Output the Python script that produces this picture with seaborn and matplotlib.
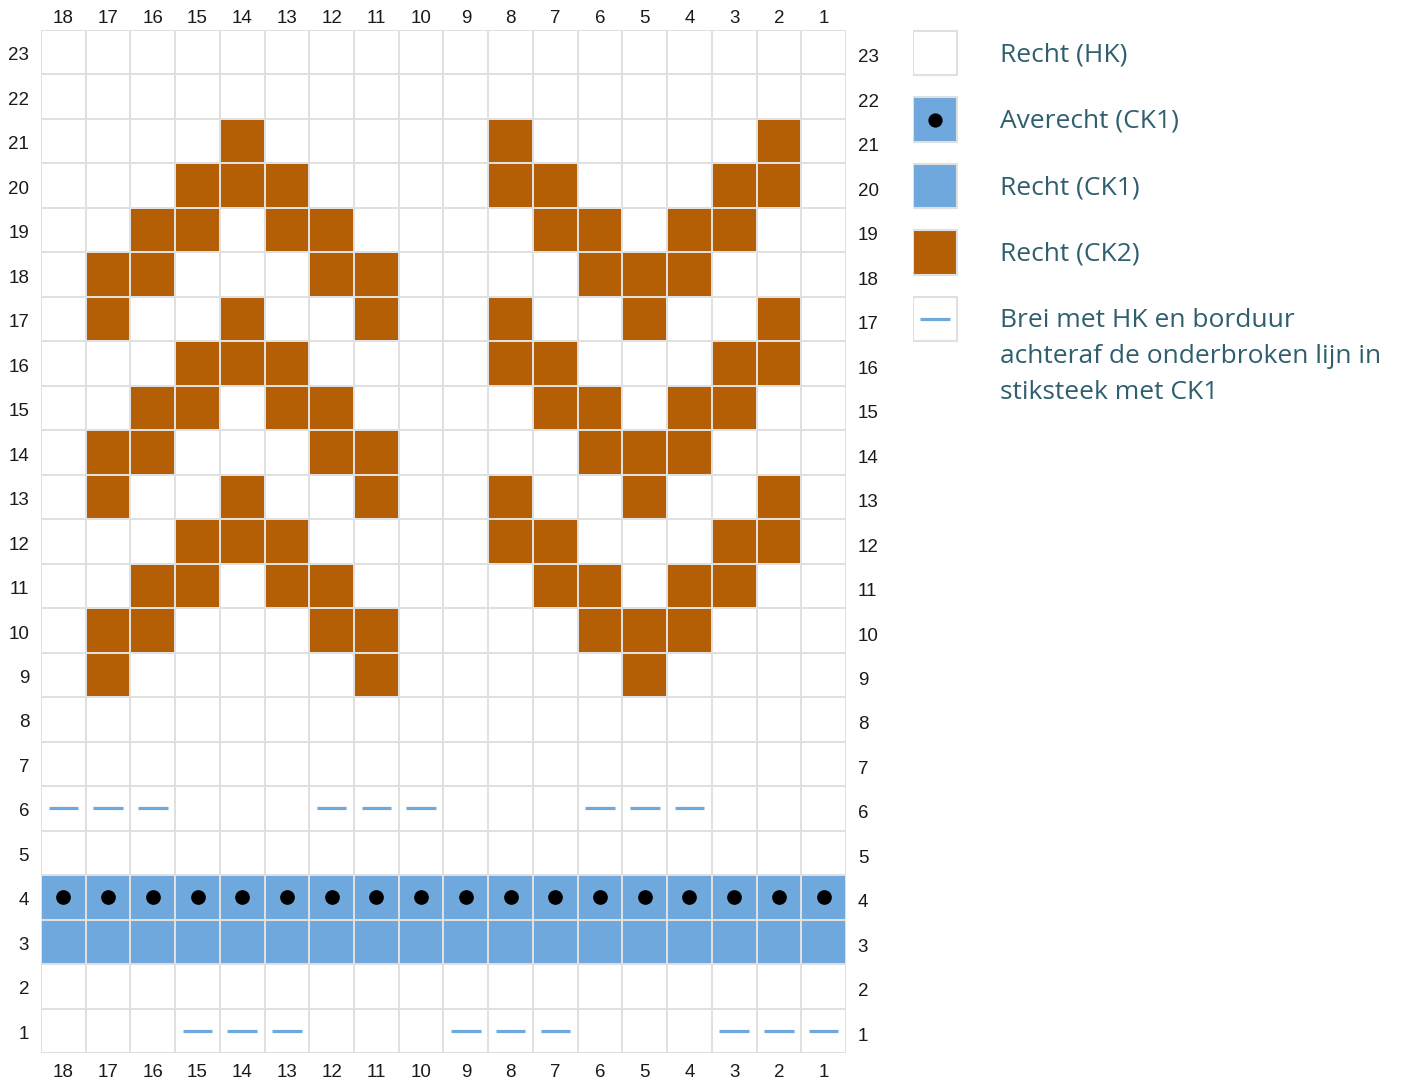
import numpy as np
import pandas as pd
import seaborn as sns
import matplotlib
matplotlib.use("Agg")
import matplotlib.pyplot as plt
from matplotlib.colors import ListedColormap
from matplotlib.patches import Rectangle

sns.set_theme(style="white")
plt.rcParams['font.family'] = ['Liberation Sans', 'DejaVu Sans']

# ---------------- data ----------------
columns = list(range(18, 0, -1))      # stitch numbers, left to right
rows = list(range(23, 0, -1))         # row numbers, top to bottom

ck2_stitches = {
    21: [14, 8, 2],
    20: [15, 14, 13, 8, 7, 3, 2],
    19: [16, 15, 13, 12, 7, 6, 4, 3],
    18: [17, 16, 12, 11, 6, 5, 4],
    17: [17, 14, 11, 8, 5, 2],
    16: [15, 14, 13, 8, 7, 3, 2],
    15: [16, 15, 13, 12, 7, 6, 4, 3],
    14: [17, 16, 12, 11, 6, 5, 4],
    13: [17, 14, 11, 8, 5, 2],
    12: [15, 14, 13, 8, 7, 3, 2],
    11: [16, 15, 13, 12, 7, 6, 4, 3],
    10: [17, 16, 12, 11, 6, 5, 4],
    9: [17, 11, 5],
}
ck1_rows = [4, 3]
purl_rows = [4]
embroidery_stitches = {
    6: [18, 17, 16, 12, 11, 10, 6, 5, 4],
    1: [15, 14, 13, 9, 8, 7, 3, 2, 1],
}

legend_labels = [
    "Recht (HK)",
    "Averecht (CK1)",
    "Recht (CK1)",
    "Recht (CK2)",
    "Brei met HK en borduur\nachteraf de onderbroken lijn in\nstiksteek met CK1",
]
legend_codes = [0, 1, 1, 2, 0]
legend_symbols = [None, "dot", None, None, "dash"]

# ---------------- style ----------------
HK = "#ffffff"
CK1 = "#6fa8dc"
CK2 = "#b45f06"
GRID = "#e0e0e0"
TICK_COLOR = "#1a1a1a"
TEXT_COLOR = "#2f5f6f"
palette = [HK, CK1, CK2]
TICK_SIZE = 13.5

W, H = 1403, 1081
fig = plt.figure(figsize=(W / 100, H / 100), dpi=100)
fig.patch.set_facecolor("white")

grid = pd.DataFrame(0, index=rows, columns=columns)
for r in ck1_rows:
    grid.loc[r, :] = 1
for r, cs in ck2_stitches.items():
    grid.loc[r, cs] = 2

ax = fig.add_axes([41 / W, 1 - 1053 / H, 805 / W, 1023 / H])
sns.heatmap(grid, ax=ax, cmap=ListedColormap(palette), vmin=-0.5, vmax=2.5,
            cbar=False, linewidths=1.1, linecolor=GRID,
            xticklabels=columns, yticklabels=rows)

xpos = {c: i + 0.5 for i, c in enumerate(columns)}
ypos = {r: i + 0.5 for i, r in enumerate(rows)}

for r in purl_rows:
    ax.scatter([xpos[c] for c in columns], [ypos[r]] * len(columns),
               s=112, color="black", linewidths=0, zorder=4)

for r, cs in embroidery_stitches.items():
    ax.hlines([ypos[r]] * len(cs), [xpos[c] - 0.33 for c in cs],
              [xpos[c] + 0.33 for c in cs], color=CK1, linewidth=2.3,
              zorder=4, capstyle="butt")

# row labels sit slightly below the row centre, as in the original chart
label_drop = 0.08
ax.set_yticks([ypos[r] + label_drop for r in rows], labels=[str(r) for r in rows])
ax.set_ylim(len(rows), 0)

ax.tick_params(axis="y", left=True, right=True, labelleft=True, labelright=True,
               length=0, pad=8.5, labelsize=TICK_SIZE, labelcolor=TICK_COLOR,
               labelrotation=0)
ax.tick_params(axis="x", bottom=True, labelbottom=True, length=0, pad=8,
               labelsize=TICK_SIZE, labelcolor=TICK_COLOR, labelrotation=0)
ax.set_xlabel("")
ax.set_ylabel("")

sec = ax.secondary_xaxis("top")
sec.set_xticks([xpos[c] for c in columns], labels=[str(c) for c in columns])
sec.tick_params(length=0, pad=2.5, labelsize=TICK_SIZE, labelcolor=TICK_COLOR)
for s in sec.spines.values():
    s.set_visible(False)

# ---------------- legend ----------------
lax = fig.add_axes([913 / W, 1 - 352.25 / H, 490 / W, 332.5 / H])
lax.set_xlim(0, 490)
lax.set_ylim(len(legend_labels) - 0.5, -0.5)
lax.axis("off")
box_w, box_h = 44, 0.662
for i, (label, code, sym) in enumerate(zip(legend_labels, legend_codes, legend_symbols)):
    lax.add_patch(Rectangle((0, i - box_h / 2), box_w, box_h,
                            facecolor=palette[code], edgecolor=GRID, lw=1.5))
    if sym == "dot":
        lax.scatter([box_w / 2], [i], s=105, color="black", linewidths=0, zorder=4)
    elif sym == "dash":
        lax.hlines([i], [box_w / 2 - 14.7], [box_w / 2 + 14.7], color=CK1,
                   linewidth=2.3, zorder=4, capstyle="butt")
    lax.text(87, i - 0.159, label, ha="left", va="top", fontsize=19,
             color=TEXT_COLOR, family=["Open Sans", "DejaVu Sans"],
             linespacing=1.58)

fig.savefig("out.png", dpi=100, facecolor="white")
